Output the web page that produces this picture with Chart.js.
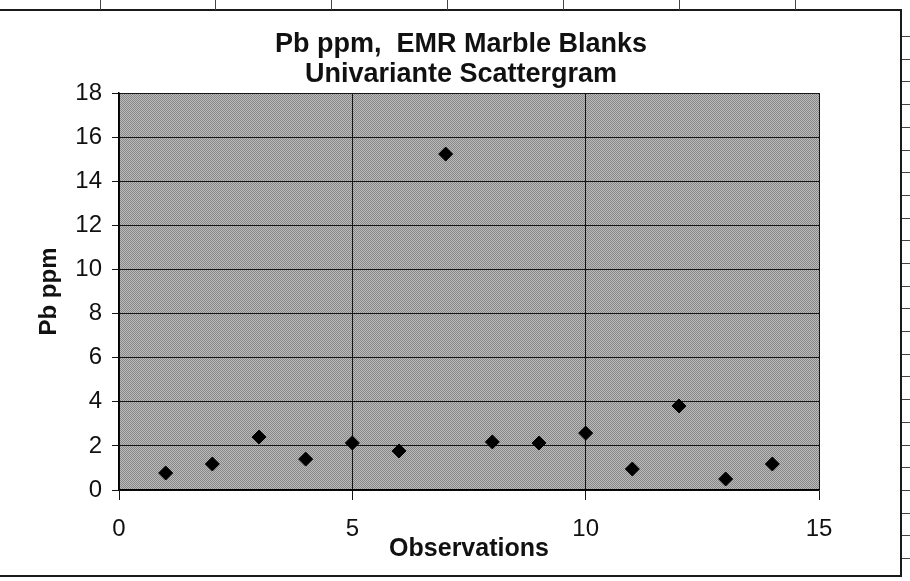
<!DOCTYPE html>
<html>
<head>
<meta charset="utf-8">
<script src="https://cdn.jsdelivr.net/npm/chart.js@4.4.1/dist/chart.umd.min.js"></script>
<style>
  body { margin: 0; background: #fff; }
  #wrap { position: relative; width: 910px; height: 581px; overflow: hidden; background: #fff; }
  #box { position: absolute; left: -5px; top: 9px; width: 907px; height: 568px; border: 2px solid #1a1a1a; box-sizing: border-box; }
  .cell { position: absolute; background: #444; }
  canvas { position: absolute; left: 0; top: 0; }
</style>
</head>
<body>
<div id="wrap">
  <div id="box"></div>
  <canvas id="grafico" width="910" height="581"></canvas>
</div>
<script>
// datos
const observations = [1, 2, 3, 4, 5, 6, 7, 8, 9, 10, 11, 12, 13, 14];
const pbPpm = [0.77, 1.18, 2.4, 1.4, 2.13, 1.77, 15.23, 2.18, 2.13, 2.58, 0.95, 3.81, 0.5, 1.18];
const xTicks = [0, 5, 10, 15];
const yTicks = [0, 2, 4, 6, 8, 10, 12, 14, 16, 18];

const FONT = '"Liberation Sans", Arial, sans-serif';

// lineas de la hoja de calculo alrededor del grafico
const wrap = document.getElementById('wrap');
[100, 215, 331, 447, 563, 679, 795].forEach(x => {
  const d = document.createElement('div');
  d.className = 'cell';
  d.style.cssText = `left:${x}px;top:0;width:1px;height:10px;`;
  wrap.appendChild(d);
});
for (let y = 36; y < 581; y += 22.7) {
  const d = document.createElement('div');
  d.className = 'cell';
  d.style.cssText = `left:902px;top:${Math.round(y)}px;width:8px;height:1px;`;
  wrap.appendChild(d);
}

// fondo gris tramado del area de trazado
const plotFill = {
  id: 'plotFill',
  beforeDraw(chart) {
    const { ctx, chartArea: a } = chart;
    const p = document.createElement('canvas');
    p.width = 2; p.height = 2;
    const pc = p.getContext('2d');
    pc.fillStyle = '#bababa'; pc.fillRect(0, 0, 2, 2);
    pc.fillStyle = '#888888'; pc.fillRect(0, 0, 1, 1); pc.fillRect(1, 1, 1, 1);
    ctx.save();
    ctx.fillStyle = ctx.createPattern(p, 'repeat');
    ctx.fillRect(a.left, a.top, a.right - a.left, a.bottom - a.top);
    ctx.restore();
  }
};

const ctx = document.getElementById('grafico').getContext('2d');
const chart = new Chart(ctx, {
  type: 'scatter',
  data: {
    datasets: [{
      label: 'Pb ppm',
      data: observations.map((o, i) => ({ x: o, y: pbPpm[i] })),
      pointStyle: 'rectRot',
      pointRadius: 7,
      pointBackgroundColor: '#000',
      pointBorderColor: '#000',
      pointBorderWidth: 1
    }]
  },
  options: {
    responsive: false,
    animation: false,
    layout: { padding: { left: 12, right: 0, top: 0, bottom: 0 } },
    plugins: {
      legend: { display: false },
      tooltip: { enabled: false },
      title: {
        display: true,
        text: ['Pb ppm,  EMR Marble Blanks', 'Univariante Scattergram'],
        color: '#111',
        font: { family: FONT, size: 27, weight: 'bold', lineHeight: 30 / 27 },
        padding: { top: 30, bottom: 3 }
      }
    },
    scales: {
      x: {
        type: 'linear',
        position: 'bottom',
        min: 0,
        max: 15,
        afterBuildTicks: s => { s.ticks = xTicks.map(v => ({ value: v })); },
        afterFit: s => { s.height = 91; },
        grid: { color: '#151515', lineWidth: 1, tickLength: 10 },
        border: { color: '#000', width: 1.5 },
        ticks: { color: '#111', font: { family: FONT, size: 24 }, padding: 15, maxRotation: 0 },
        title: {
          display: true,
          text: 'Observations',
          color: '#111',
          font: { family: FONT, size: 25, weight: 'bold' },
          padding: { top: 0, bottom: 17 }
        }
      },
      y: {
        type: 'linear',
        position: 'left',
        min: 0,
        max: 18,
        afterBuildTicks: s => { s.ticks = yTicks.map(v => ({ value: v })); },
        afterFit: s => { s.width = 107; },
        grid: { color: '#151515', lineWidth: 1, tickLength: 7 },
        border: { color: '#000', width: 1.5 },
        ticks: { color: '#111', font: { family: FONT, size: 24 }, padding: 10 },
        title: {
          display: true,
          text: 'Pb ppm',
          color: '#111',
          font: { family: FONT, size: 24, weight: 'bold' },
          padding: { top: 23, bottom: 0 }
        }
      },
      y2: {
        type: 'linear',
        position: 'right',
        display: true,
        grid: { display: false },
        border: { display: false },
        ticks: { display: false },
        afterFit: s => { s.width = 91; }
      }
    }
  },
  plugins: [plotFill]
});
</script>
</body>
</html>
